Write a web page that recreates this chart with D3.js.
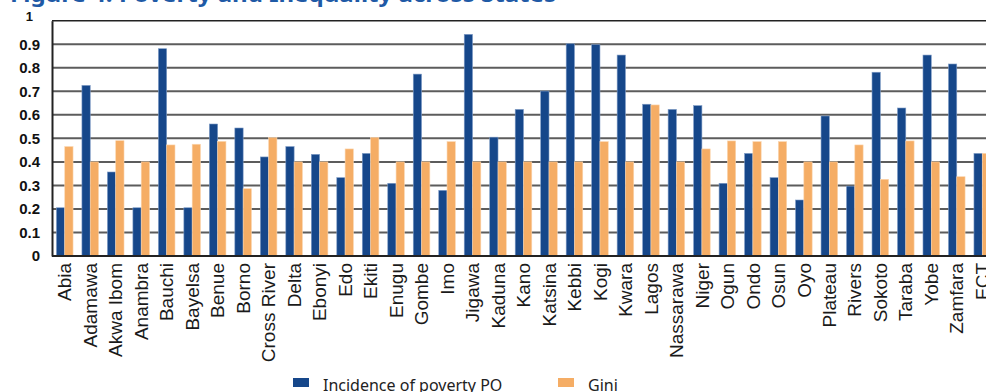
<!DOCTYPE html>
<html><head><meta charset="utf-8">
<script src="https://cdn.jsdelivr.net/npm/d3@7"></script>
<style>
html,body{margin:0;padding:0;background:#fff;}
svg{display:block;font-family:"Noto Sans","Open Sans",sans-serif;}
</style></head>
<body>
<svg id="chart" width="986" height="392"></svg>
<script>
const titleText = "Figure 4: Poverty and Inequality across States";
const states = ["Abia","Adamawa","Akwa Ibom","Anambra","Bauchi","Bayelsa","Benue","Borno","Cross River","Delta","Ebonyi","Edo","Ekiti","Enugu","Gombe","Imo","Jigawa","Kaduna","Kano","Katsina","Kebbi","Kogi","Kwara","Lagos","Nassarawa","Niger","Ogun","Ondo","Osun","Oyo","Plateau","Rivers","Sokoto","Taraba","Yobe","Zamfara","FCT"];
const povertyPO = [0.205,0.725,0.357,0.205,0.881,0.205,0.561,0.544,0.421,0.465,0.432,0.333,0.436,0.309,0.773,0.279,0.942,0.505,0.623,0.701,0.902,0.898,0.854,0.645,0.623,0.639,0.309,0.436,0.333,0.238,0.595,0.297,0.781,0.629,0.854,0.816,0.436];
const gini = [0.465,0.40,0.49,0.40,0.472,0.475,0.487,0.286,0.503,0.40,0.40,0.455,0.504,0.40,0.40,0.486,0.40,0.40,0.40,0.40,0.40,0.486,0.40,0.642,0.40,0.455,0.489,0.486,0.486,0.40,0.40,0.472,0.326,0.489,0.40,0.337,0.436];
const yTicks = [0,0.1,0.2,0.3,0.4,0.5,0.6,0.7,0.8,0.9,1];
const yTickLabels = ["0","0.1","0.2","0.3","0.4","0.5","0.6","0.7","0.8","0.9","1"];
const seriesNames = ["Incidence of poverty PO","Gini"];
const colors = ["#16478a","#f5ad65"];

const svg = d3.select("#chart");
const x = d3.scaleBand().domain(states).range([52, 995]).paddingInner(0).paddingOuter(0);
const x1 = d3.scaleBand().domain([0,1]).range([0, x.bandwidth()]).paddingOuter(0.536).paddingInner(0);
const y = d3.scaleLinear().domain([0,1]).range([256, 20.7]);

// title (cropped at top)
svg.append("text").attr("x",10).attr("y",1.5)
  .attr("font-size",22).attr("font-weight","bold").attr("fill","#1f5aa6")
  .attr("textLength",546).attr("lengthAdjust","spacingAndGlyphs")
  .text(titleText);

// gridlines
svg.append("g").selectAll("line").data(yTicks.slice(1)).join("line")
  .attr("x1",52).attr("x2",986)
  .attr("y1",d=>y(d)).attr("y2",d=>y(d))
  .attr("stroke",d=>d===1?"#222":"#5c5c5c").attr("stroke-width",d=>d===1?1.6:2);

// bars
const data = [povertyPO, gini];
const groups = svg.append("g");
states.forEach((s,i)=>{
  data.forEach((arr,k)=>{
    groups.append("rect")
      .attr("x", x(s)+x1(k)).attr("width", x1.bandwidth())
      .attr("y", y(arr[i])).attr("height", y(0)-y(arr[i]))
      .attr("fill", colors[k])
      .attr("stroke", k===0?"#7f9cc6":"#fbd6b0").attr("stroke-width",0.6);
  });
});

// y axis
const yAxis = d3.axisLeft(y).tickValues(yTicks).tickSize(0).tickPadding(12)
  .tickFormat((d,i)=>yTickLabels[i]);
const gy = svg.append("g").attr("transform","translate(52,0)").call(yAxis);
gy.select(".domain").attr("stroke","#222").attr("stroke-width",2);
gy.selectAll("text").attr("font-size",15).attr("font-weight","bold").attr("fill","#111")
  .style("font-variant-numeric","oldstyle-nums");
gy.selectAll(".tick").filter(d=>d===1).select("text").attr("dy","0.0em").attr("x",-19).attr("font-size",13);

// x axis
const xAxis = d3.axisBottom(x).tickSize(0).tickPadding(0);
const gx = svg.append("g").attr("transform","translate(0,256)").call(xAxis);
gx.select(".domain").attr("stroke","#222").attr("stroke-width",2).attr("d","M52,0H986");
gx.selectAll("text")
  .attr("font-size",19).attr("fill","#1a1a1a")
  .attr("transform","rotate(-90)")
  .attr("text-anchor","end").attr("dy","0.35em").attr("x",-7).attr("y",0);

// legend
const legend = svg.append("g");
const legX = [293, 558];
seriesNames.forEach((n,k)=>{
  legend.append("rect").attr("x",legX[k]).attr("y",378).attr("width",16).attr("height",9).attr("fill",colors[k]);
  legend.append("text").attr("x",legX[k]+30).attr("y",391).attr("font-size",16).attr("fill","#222").text(n);
});
</script>
</body></html>
